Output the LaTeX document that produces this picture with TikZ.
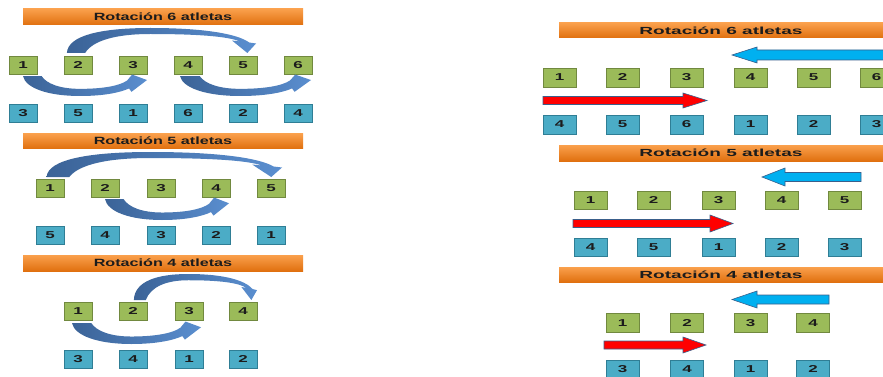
\documentclass[tikz,border=0pt]{standalone}
\usepackage{graphicx}
\usepackage{fontspec}
\setmainfont{Liberation Sans}
\usetikzlibrary{calc}

\definecolor{gfill}{HTML}{9BBB59}
\definecolor{gbord}{HTML}{71893F}
\definecolor{bfill}{HTML}{4BACC6}
\definecolor{bbord}{HTML}{2F7E95}
\definecolor{bantop}{HTML}{FAA04C}
\definecolor{banbot}{HTML}{E0700F}
\definecolor{txt}{HTML}{1C1C1C}
\definecolor{arcdark}{HTML}{3B6397}
\definecolor{arclight}{HTML}{5A8ECF}
\definecolor{skyarrow}{HTML}{00B0F0}
\definecolor{redarrow}{HTML}{FF0000}
\definecolor{arrline}{HTML}{3A5F8B}

% horizontally stretched bold labels
\newcommand\dg[1]{\scalebox{1.7}[1]{#1}}
\newcommand\lbtitle[1]{\scalebox{1.54}[1]{#1}}
\newcommand\rbtitle[1]{\scalebox{1.85}[1]{#1}}

% curved arrow bulging upwards, head pointing down onto the target box
% #1,#2: left/right x ; #3,#4: top/bottom y
\newcommand\toparc[4]{%
  \pgfmathsetmacro\arcW{#2-#1}\pgfmathsetmacro\arcH{#4-#3}%
  \begin{scope}[shift={(#1,#4)},x=\arcW pt,y=\arcH pt]
    \shade[arcshade] (0.015,0) .. controls (0.02,0.72) and (0.2,1) .. (0.45,1)
      .. controls (0.72,1) and (0.9,0.78) .. (0.965,0.42) -- (1,0.38) -- (0.955,0)
      -- (0.875,0.50) -- (0.915,0.46) .. controls (0.86,0.66) and (0.70,0.76) .. (0.45,0.76)
      .. controls (0.27,0.76) and (0.15,0.5) .. (0.11,0) -- cycle;
  \end{scope}}
% curved arrow bulging downwards, head pointing up-right
\newcommand\botarc[4]{%
  \pgfmathsetmacro\arcW{#2-#1}\pgfmathsetmacro\arcH{#4-#3}%
  \begin{scope}[shift={(#1,#3)},x=\arcW pt,y=-\arcH pt]
    \shade[arcshade] (0,0.05) .. controls (0.02,0.62) and (0.2,1) .. (0.46,1)
      .. controls (0.66,1) and (0.79,0.82) .. (0.855,0.64) -- (0.875,0.8) -- (1,0.24)
      -- (0.88,-0.02) -- (0.84,0.26) .. controls (0.78,0.52) and (0.64,0.66) .. (0.46,0.66)
      .. controls (0.3,0.66) and (0.19,0.42) .. (0.15,0.05) -- cycle;
  \end{scope}}
% straight block arrow: tail x, tip x, centre y, head start x, half head, half shaft, colour
\newcommand\blockarrow[7]{%
  \draw[blockline,fill=#7] (#1,#3-#6) -- (#4,#3-#6) -- (#4,#3-#5) -- (#2,#3)
    -- (#4,#3+#5) -- (#4,#3+#6) -- (#1,#3+#6) -- cycle;}

\begin{document}
\begin{tikzpicture}[x=1pt,y=-1pt,
  box/.style={line width=0.9pt,inner sep=0pt,text=txt,
    font=\bfseries\fontsize{10}{10}\selectfont},
  gbox/.style={box,draw=gbord,fill=gfill,minimum width=28pt,minimum height=18pt},
  bbox/.style={box,draw=bbord,fill=bfill,minimum width=28pt,minimum height=18pt},
  rgbox/.style={gbox,minimum width=33pt,minimum height=19pt},
  rbbox/.style={bbox,minimum width=33pt,minimum height=19pt},
  banner/.style={top color=bantop,bottom color=banbot,inner sep=0pt,text=txt,
    minimum width=280pt,font=\bfseries\fontsize{10.5}{10.5}\selectfont},
  rbanner/.style={banner,minimum width=324pt,font=\bfseries\fontsize{10.3}{10.3}\selectfont},
  arcshade/.style={left color=arcdark,right color=arclight},
  blockline/.style={draw=arrline,line width=0.6pt}]
\useasboundingbox (0,0) rectangle (883,377);
\clip (0,0) rectangle (883,377);
\fill[white] (0,0) rectangle (883,377);

% ---------- left column: rotations drawn with curved arrows ----------
\node[banner,minimum height=16pt] (L6t) at (163,17) {\lbtitle{Rotación 6 atletas}};
\foreach \n/\x in {1/23,2/78,3/133,4/188,5/243,6/298}
  \node[gbox] (L6g\n) at (\x,65) {\dg{\n}};
\foreach \n/\x/\v in {1/23/3,2/78/5,3/133/1,4/188/6,5/243/2,6/298/4}
  \node[bbox] (L6b\n) at (\x,113) {\dg{\v}};
\toparc{64}{256}{28}{53}
\botarc{23}{147}{75}{96}
\botarc{180}{311}{75}{96}

\node[banner,minimum height=15pt] (L5t) at (163,141) {\lbtitle{Rotación 5 atletas}};
\foreach \n/\x in {1/50,2/105,3/161,4/216,5/271}
  \node[gbox] (L5g\n) at (\x,188.5) {\dg{\n}};
\foreach \n/\x/\v in {1/50/5,2/105/4,3/161/3,4/216/2,5/271/1}
  \node[bbox] (L5b\n) at (\x,235.5) {\dg{\v}};
\toparc{43}{282}{152}{177}
\botarc{105}{229}{198}{220}

\node[banner,minimum height=16pt] (L4t) at (163,263) {\lbtitle{Rotación 4 atletas}};
\foreach \n/\x in {1/78,2/133,3/189,4/243}
  \node[gbox] (L4g\n) at (\x,311.5) {\dg{\n}};
\foreach \n/\x/\v in {1/78/3,2/133/4,3/189/1,4/243/2}
  \node[bbox] (L4b\n) at (\x,359) {\dg{\v}};
\toparc{132}{257}{274}{300}
\botarc{72}{201}{322}{344}

% ---------- right column: rotations drawn with block arrows ----------
\node[rbanner,minimum height=15pt] (R6t) at (721,30.5) {\rbtitle{Rotación 6 atletas}};
\foreach \n/\x in {1/559.5,2/622.5,3/686.5,4/750.5,5/813.5,6/876.5}
  \node[rgbox] (R6g\n) at (\x,77.5) {\dg{\n}};
\foreach \n/\x/\v in {1/559.5/4,2/622.5/5,3/686.5/6,4/750.5/1,5/813.5/2,6/876.5/3}
  \node[rbbox] (R6b\n) at (\x,124.5) {\dg{\v}};
\blockarrow{892}{732}{55}{757}{8}{5}{skyarrow}
\blockarrow{543}{707}{100.5}{683}{7.5}{4}{redarrow}

\node[rbanner,minimum height=16pt] (R5t) at (721,153) {\rbtitle{Rotación 5 atletas}};
\foreach \n/\x in {1/590.5,2/653.5,3/718.5,4/781.5,5/844.5}
  \node[rgbox,minimum height=18pt] (R5g\n) at (\x,200.5) {\dg{\n}};
\foreach \n/\x/\v in {1/590.5/4,2/653.5/5,3/718.5/1,4/781.5/2,5/844.5/3}
  \node[rbbox,minimum height=18pt] (R5b\n) at (\x,247.5) {\dg{\v}};
\blockarrow{861}{762}{177}{785}{9}{4.5}{skyarrow}
\blockarrow{573}{733}{223.5}{710}{8.5}{4}{redarrow}

\node[rbanner,minimum height=15pt] (R4t) at (721,274.5) {\rbtitle{Rotación 4 atletas}};
\foreach \n/\x in {1/622.5,2/687,3/750.5,4/813}
  \node[rgbox] (R4g\n) at (\x,323) {\dg{\n}};
\foreach \n/\x/\v in {1/622.5/3,2/687/4,3/750.5/1,4/813/2}
  \node[rbbox] (R4b\n) at (\x,369.5) {\dg{\v}};
\blockarrow{829}{732}{299.5}{757}{8.5}{4.5}{skyarrow}
\blockarrow{604}{706}{345}{683}{8}{4}{redarrow}
\end{tikzpicture}
\end{document}
